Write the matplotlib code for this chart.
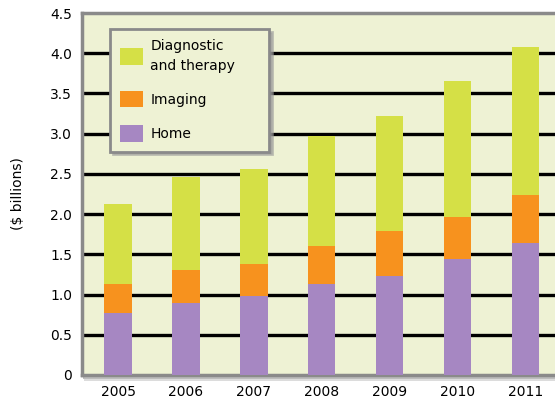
import numpy as np
import matplotlib.pyplot as plt
from matplotlib.patches import Patch, Rectangle

years = ['2005', '2006', '2007', '2008', '2009', '2010', '2011']
home = [0.77, 0.90, 0.98, 1.13, 1.23, 1.44, 1.64]
imaging = [0.36, 0.41, 0.40, 0.47, 0.56, 0.53, 0.60]
diagnostic = [0.99, 1.15, 1.18, 1.37, 1.43, 1.69, 1.84]

yticks = [0, 0.5, 1.0, 1.5, 2.0, 2.5, 3.0, 3.5, 4.0, 4.5]
ytick_labels = ['0', '0.5', '1.0', '1.5', '2.0', '2.5', '3.0', '3.5', '4.0', '4.5']

c_diag = '#d5e046'
c_img = '#f7921e'
c_home = '#a687c2'
panel = '#eef2d4'

plt.rcParams['font.family'] = ['DejaVu Sans']

fig = plt.figure(figsize=(5.55, 4.01), dpi=100)
ax = fig.add_axes([82/555, 26/401, 473/555, 362/401])
ax.set_zorder(2)

# drop shadow behind the panel
fig.patches.append(Rectangle((84/555, 20/401), 471/555, 362/401, transform=fig.transFigure,
                             facecolor='#dcdcdc', edgecolor='none', zorder=0))
fig.patches.append(Rectangle((83/555, 22/401), 472/555, 362/401, transform=fig.transFigure,
                             facecolor='#bdbdbd', edgecolor='none', zorder=0))

ax.set_facecolor(panel)
x = np.arange(len(years))
w = 0.4
home = np.array(home)
imaging = np.array(imaging)
diagnostic = np.array(diagnostic)

ax.bar(x, home, w, color=c_home, zorder=3)
ax.bar(x, imaging, w, bottom=home, color=c_img, zorder=3)
ax.bar(x, diagnostic, w, bottom=home + imaging, color=c_diag, zorder=3)

for yv in yticks[1:-1]:
    ax.axhline(yv, color='black', lw=2.4, zorder=1)

ax.set_xlim(-0.53, 6.43)
ax.set_ylim(0, 4.5)
ax.set_xticks(x)
ax.set_xticklabels(years)
ax.set_yticks(yticks)
ax.set_yticklabels(ytick_labels)
ax.tick_params(length=0, labelsize=10, pad=7)
ax.set_ylabel('($ billions)', fontsize=10, labelpad=18)

for s in ['left', 'bottom', 'top']:
    ax.spines[s].set_color('#8a8a8a')
    ax.spines[s].set_linewidth(2.5)
ax.spines['right'].set_visible(False)

handles = [Patch(facecolor=c_diag), Patch(facecolor=c_img), Patch(facecolor=c_home)]
labels = ['Diagnostic\nand therapy', 'Imaging', 'Home']
leg = ax.legend(handles, labels, loc='upper left', bbox_to_anchor=(0.059, 0.956 - 0.5, 0.336, 0.5),
                mode='expand', borderaxespad=0, fontsize=10, handlelength=1.65, handleheight=1.45,
                fancybox=False, shadow={'color': '#9a9a9a', 'alpha': 0.6}, framealpha=1,
                facecolor=panel, edgecolor='#8a8a8a', borderpad=0.7, labelspacing=1.3,
                handletextpad=0.55)
leg.get_frame().set_linewidth(2)
leg.get_texts()[0].set_linespacing(1.55)
leg.set_zorder(5)

fig.savefig('out.png', dpi=100)
